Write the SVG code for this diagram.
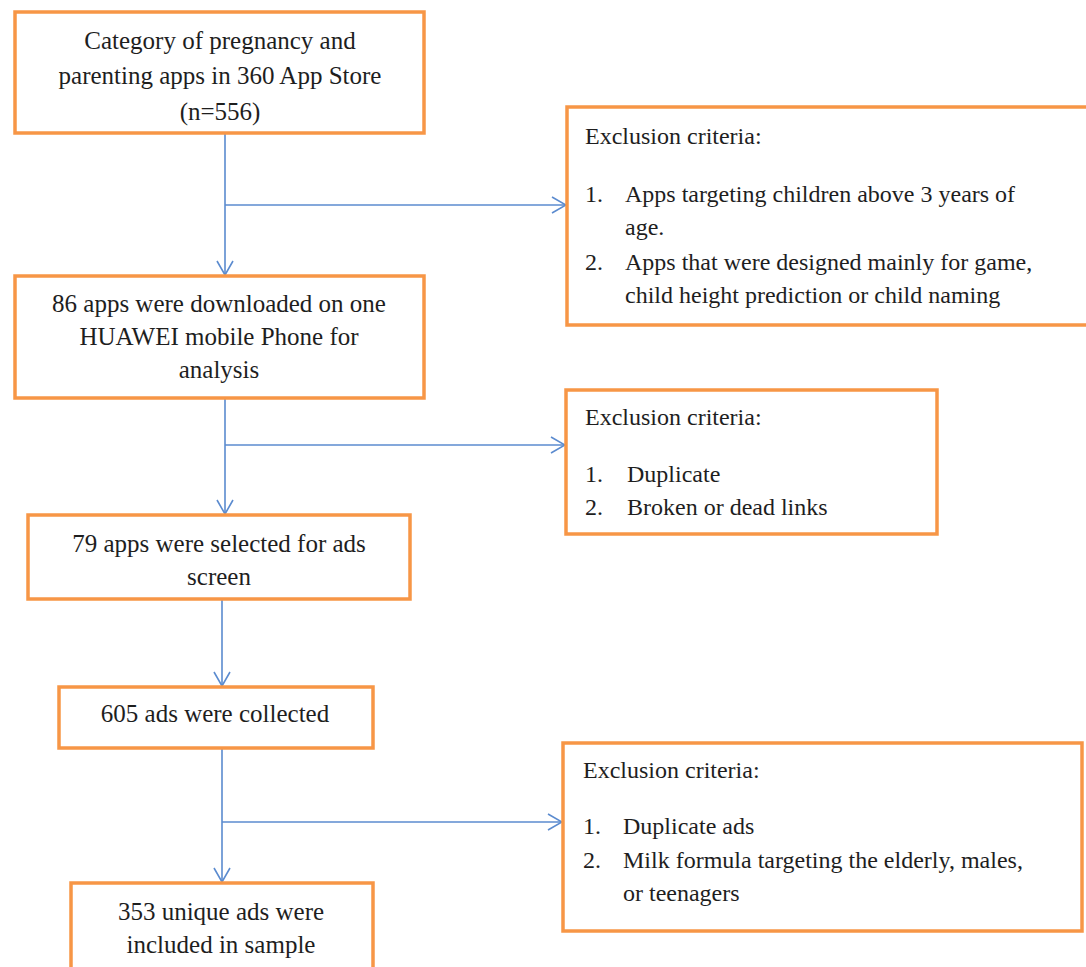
<svg xmlns="http://www.w3.org/2000/svg" width="1086" height="967" viewBox="0 0 1086 967">
<style>
.box{fill:#fff;stroke:#F79646;stroke-width:3.5}
.t{font-family:"Liberation Serif","Times New Roman",serif;font-size:25px;fill:#1e1e1e}
.c{text-anchor:middle}
.r{font-size:24px}
.ln{fill:none;stroke:#5B8BCF;stroke-width:1.6}
</style>
<defs>
<marker id="ah" markerUnits="userSpaceOnUse" viewBox="0 0 16 18" refX="15" refY="9" markerWidth="16" markerHeight="18" orient="auto">
<path d="M1,1 L15,9 L1,17" fill="none" stroke="#5B8BCF" stroke-width="1.6"/>
</marker>
</defs>
<rect width="1086" height="967" fill="#fff"/>
<g id="connectors">
<line class="ln" x1="225" y1="133" x2="225" y2="275" marker-end="url(#ah)"/>
<line class="ln" x1="225" y1="205" x2="566" y2="205" marker-end="url(#ah)"/>
<line class="ln" x1="225" y1="398" x2="225" y2="514" marker-end="url(#ah)"/>
<line class="ln" x1="225" y1="445" x2="565" y2="445" marker-end="url(#ah)"/>
<line class="ln" x1="222" y1="599" x2="222" y2="686" marker-end="url(#ah)"/>
<line class="ln" x1="222" y1="748" x2="222" y2="882" marker-end="url(#ah)"/>
<line class="ln" x1="222" y1="822" x2="562" y2="822" marker-end="url(#ah)"/>
</g>
<g id="n1">
<rect class="box" x="15" y="12" width="409" height="121"/>
<text class="t c" x="220" y="49">Category of pregnancy and</text>
<text class="t c" x="220" y="84">parenting apps in 360 App Store</text>
<text class="t c" x="220" y="120">(n=556)</text>
</g>
<g id="n2">
<rect class="box" x="15" y="276" width="409" height="122"/>
<text class="t c" x="219" y="312">86 apps were downloaded on one</text>
<text class="t c" x="219" y="345">HUAWEI mobile Phone for</text>
<text class="t c" x="219" y="378">analysis</text>
</g>
<g id="n3">
<rect class="box" x="28" y="515" width="382" height="84"/>
<text class="t c" x="219" y="552">79 apps were selected for ads</text>
<text class="t c" x="219" y="585">screen</text>
</g>
<g id="n4">
<rect class="box" x="59" y="687" width="314" height="61"/>
<text class="t c" x="215" y="722">605 ads were collected</text>
</g>
<g id="n5">
<rect class="box" x="71" y="883" width="302" height="100"/>
<text class="t c" x="221" y="920">353 unique ads were</text>
<text class="t c" x="221" y="953">included in sample</text>
</g>
<g id="e1">
<rect class="box" x="567" y="107" width="530" height="218"/>
<text class="t r" x="585" y="144">Exclusion criteria:</text>
<text class="t r" x="585" y="202">1.</text>
<text class="t r" x="625" y="202">Apps targeting children above 3 years of</text>
<text class="t r" x="625" y="235">age.</text>
<text class="t r" x="585" y="270">2.</text>
<text class="t r" x="625" y="270">Apps that were designed mainly for game,</text>
<text class="t r" x="625" y="303">child height prediction or child naming</text>
</g>
<g id="e2">
<rect class="box" x="566" y="390" width="371" height="144"/>
<text class="t r" x="585" y="425">Exclusion criteria:</text>
<text class="t r" x="585" y="482">1.</text>
<text class="t r" x="627" y="482">Duplicate</text>
<text class="t r" x="585" y="515">2.</text>
<text class="t r" x="627" y="515">Broken or dead links</text>
</g>
<g id="e3">
<rect class="box" x="563" y="743" width="519" height="188"/>
<text class="t r" x="583" y="778">Exclusion criteria:</text>
<text class="t r" x="583" y="834">1.</text>
<text class="t r" x="623" y="834">Duplicate ads</text>
<text class="t r" x="583" y="868">2.</text>
<text class="t r" x="623" y="868">Milk formula targeting the elderly, males,</text>
<text class="t r" x="623" y="901">or teenagers</text>
</g>
</svg>
